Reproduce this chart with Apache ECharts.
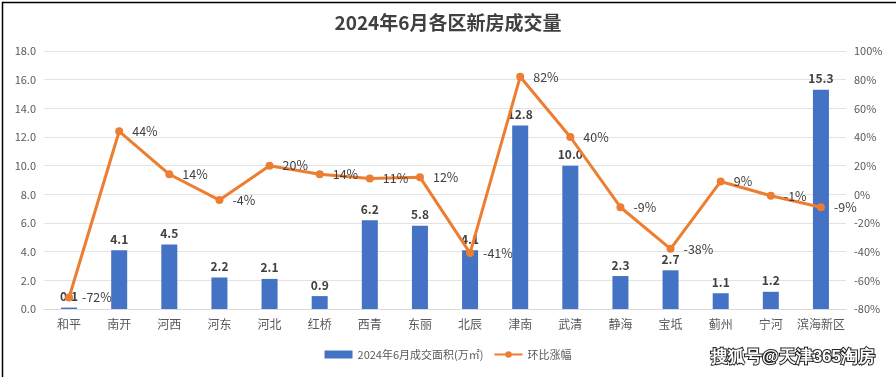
<!DOCTYPE html>
<html>
<head>
<meta charset="utf-8">
<script src="https://cdn.jsdelivr.net/npm/echarts@6/dist/echarts.min.js"></script>
<style>
  html, body { margin: 0; padding: 0; background: #fff; }
  #main { width: 896px; height: 377px; }
</style>
</head>
<body>
<div id="main"></div>
<script>
// data
const districts = ["和平", "南开", "河西", "河东", "河北", "红桥", "西青", "东丽", "北辰", "津南", "武清", "静海", "宝坻", "蓟州", "宁河", "滨海新区"];
const areaValues = [0.1, 4.1, 4.5, 2.2, 2.1, 0.9, 6.2, 5.8, 4.1, 12.8, 10.0, 2.3, 2.7, 1.1, 1.2, 15.3];
const momChange = [-72, 44, 14, -4, 20, 14, 11, 12, -41, 82, 40, -9, -38, 9, -1, -9];
const barName = "2024年6月成交面积(万㎡)";
const lineName = "环比涨幅";

let myChart = echarts.init(document.getElementById("main"));
myChart.setOption({
  animation: false,
  textStyle: { fontFamily: "Noto Sans CJK SC" },
  title: {
    text: "2024年6月各区新房成交量",
    left: "center",
    top: 8,
    textStyle: { fontSize: 19, fontWeight: "bold", color: "#404040" },
  },
  legend: {
    bottom: 12,
    left: "center",
    itemGap: 10,
    itemWidth: 28,
    itemHeight: 8,
    textStyle: { fontSize: 11, color: "#595959" },
    data: [
      { name: barName, icon: "rect" },
      { name: lineName },
    ],
  },
  grid: { left: 44, right: 50, top: 51, bottom: 68 },
  xAxis: {
    type: "category",
    data: districts,
    axisTick: { show: false },
    axisLine: { lineStyle: { color: "#d9d9d9" } },
    axisLabel: { fontSize: 12, color: "#595959", margin: 9, interval: 0 },
  },
  yAxis: [
    {
      type: "value",
      min: 0,
      max: 18,
      interval: 2,
      axisLabel: {
        fontSize: 11,
        color: "#595959",
        formatter: (v) => v.toFixed(1),
      },
      splitLine: { lineStyle: { color: "#e3e3e3" } },
    },
    {
      type: "value",
      min: -80,
      max: 100,
      interval: 20,
      axisLabel: { fontSize: 11, color: "#595959", formatter: "{value}%" },
      splitLine: { show: false },
    },
  ],
  series: [
    {
      name: barName,
      type: "bar",
      data: areaValues,
      barWidth: 16,
      itemStyle: { color: "#4472C4" },
      label: {
        show: true,
        position: "top",
        fontSize: 12,
        fontWeight: "bold",
        color: "#404040",
        formatter: (p) => p.value.toFixed(1),
      },
    },
    {
      name: lineName,
      type: "line",
      yAxisIndex: 1,
      data: momChange,
      symbol: "circle",
      symbolSize: 8,
      lineStyle: { color: "#ED7D31", width: 3 },
      itemStyle: { color: "#ED7D31" },
      label: {
        show: true,
        position: "right",
        distance: 9,
        fontSize: 12.5,
        color: "#404040",
        formatter: "{c}%",
      },
      z: 3,
    },
  ],
  graphic: [
    {
      type: "text",
      right: 20,
      bottom: 10,
      style: {
        text: "搜狐号@天津365淘房",
        fontSize: 17,
        fontWeight: "bold",
        fill: "#fff",
        stroke: "#222",
        lineWidth: 2,
      },
    },
    {
      type: "rect",
      left: 0,
      top: 0,
      shape: { x: 0.5, y: 0.5, width: 895, height: 376 },
      style: { fill: "none", stroke: "#000", lineWidth: 1.5 },
    },
  ],
});
</script>
</body>
</html>
